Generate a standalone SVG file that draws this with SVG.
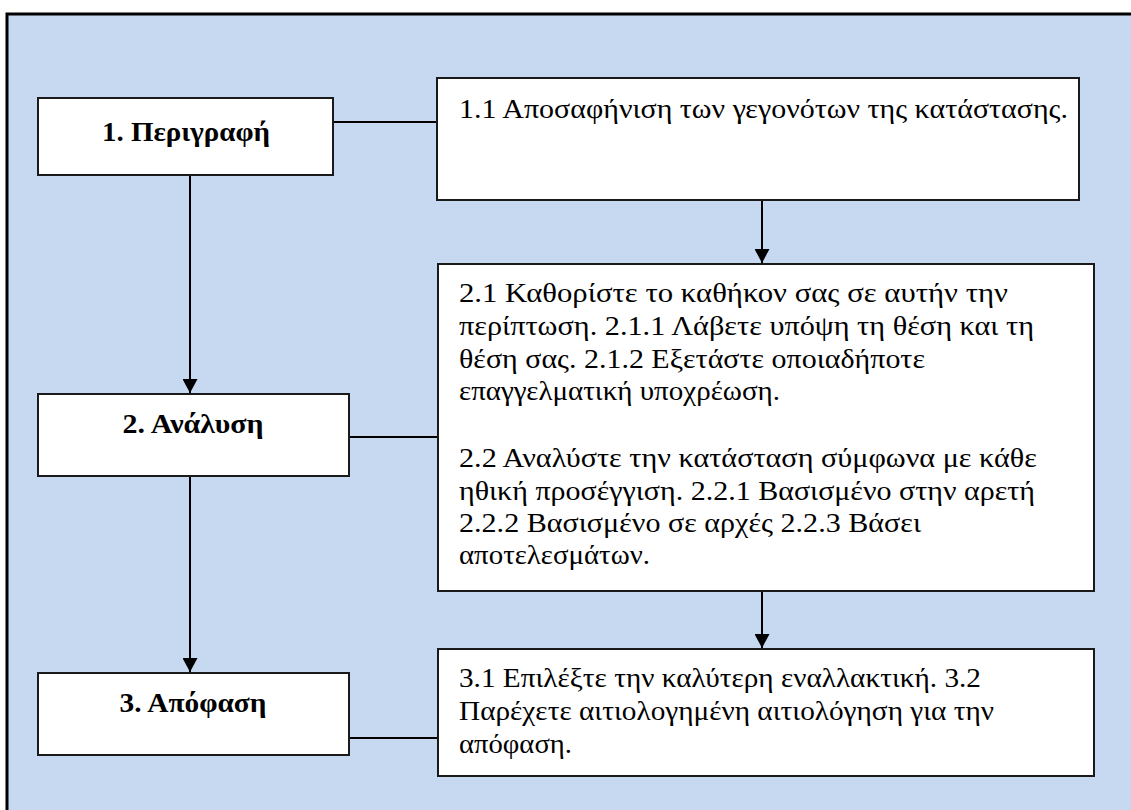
<svg xmlns="http://www.w3.org/2000/svg" width="1131" height="810" viewBox="0 0 1131 810">
<style>
.box{fill:#ffffff;stroke:#1a1a1a;stroke-width:2}
.lbl{font-family:"Liberation Serif","DejaVu Serif",serif;font-weight:bold;font-size:28px;fill:#000;text-anchor:middle}
.txt{font-family:"Liberation Serif","DejaVu Serif",serif;font-size:28px;fill:#000}
.conn{stroke:#000;stroke-width:2;fill:none}
</style>
<defs>
<marker id="arr" markerWidth="16" markerHeight="15" refX="15" refY="8" orient="auto" markerUnits="userSpaceOnUse" viewBox="0 0 16 16">
<path d="M0,0 L15,8 L0,16 Z" fill="#000"/>
</marker>
</defs>
<rect x="0" y="0" width="1131" height="810" fill="#ffffff"/>
<rect id="frame" x="7" y="14" width="1140" height="820" fill="#c6d9f0" stroke="#000" stroke-width="3"/>
<g id="connectors">
<line class="conn" x1="333" y1="122" x2="437" y2="122"/>
<line class="conn" x1="349" y1="437" x2="438" y2="437"/>
<line class="conn" x1="349" y1="738" x2="438" y2="738"/>
<line class="conn" x1="190" y1="175" x2="190" y2="393" marker-end="url(#arr)"/>
<line class="conn" x1="190" y1="476" x2="190" y2="672" marker-end="url(#arr)"/>
<line class="conn" x1="762" y1="200" x2="762" y2="263" marker-end="url(#arr)"/>
<line class="conn" x1="762" y1="591" x2="762" y2="648" marker-end="url(#arr)"/>
</g>
<g id="n1">
<rect class="box" x="38" y="98" width="295" height="77"/>
<text class="lbl" x="186" y="141" textLength="168" lengthAdjust="spacingAndGlyphs">1. Περιγραφή</text>
</g>
<g id="n2">
<rect class="box" x="38" y="394" width="311" height="82"/>
<text class="lbl" x="193" y="433" textLength="141" lengthAdjust="spacingAndGlyphs">2. Ανάλυση</text>
</g>
<g id="n3">
<rect class="box" x="38" y="673" width="311" height="82"/>
<text class="lbl" x="193" y="712" textLength="147" lengthAdjust="spacingAndGlyphs">3. Απόφαση</text>
</g>
<g id="n11">
<rect class="box" x="437" y="78" width="642" height="122"/>
<text class="txt" x="459" y="118" textLength="609" lengthAdjust="spacingAndGlyphs">1.1 Αποσαφήνιση των γεγονότων της κατάστασης.</text>
</g>
<g id="n2x">
<rect class="box" x="438" y="264" width="656" height="327"/>
<text class="txt" x="459" y="302" textLength="549" lengthAdjust="spacingAndGlyphs">2.1 Καθορίστε το καθήκον σας σε αυτήν την</text>
<text class="txt" x="459" y="335" textLength="575" lengthAdjust="spacingAndGlyphs">περίπτωση. 2.1.1 Λάβετε υπόψη τη θέση και τη</text>
<text class="txt" x="459" y="368" textLength="466" lengthAdjust="spacingAndGlyphs">θέση σας. 2.1.2 Εξετάστε οποιαδήποτε</text>
<text class="txt" x="459" y="400" textLength="321" lengthAdjust="spacingAndGlyphs">επαγγελματική υποχρέωση.</text>
<text class="txt" x="459" y="467" textLength="578" lengthAdjust="spacingAndGlyphs">2.2 Αναλύστε την κατάσταση σύμφωνα με κάθε</text>
<text class="txt" x="459" y="500" textLength="576" lengthAdjust="spacingAndGlyphs">ηθική προσέγγιση. 2.2.1 Βασισμένο στην αρετή</text>
<text class="txt" x="459" y="532" textLength="462" lengthAdjust="spacingAndGlyphs">2.2.2 Βασισμένο σε αρχές 2.2.3 Βάσει</text>
<text class="txt" x="459" y="564" textLength="191" lengthAdjust="spacingAndGlyphs">αποτελεσμάτων.</text>
</g>
<g id="n3x">
<rect class="box" x="438" y="649" width="656" height="127"/>
<text class="txt" x="459" y="687" textLength="522" lengthAdjust="spacingAndGlyphs">3.1 Επιλέξτε την καλύτερη εναλλακτική. 3.2</text>
<text class="txt" x="459" y="720" textLength="535" lengthAdjust="spacingAndGlyphs">Παρέχετε αιτιολογημένη αιτιολόγηση για την</text>
<text class="txt" x="459" y="753" textLength="113" lengthAdjust="spacingAndGlyphs">απόφαση.</text>
</g>
</svg>
